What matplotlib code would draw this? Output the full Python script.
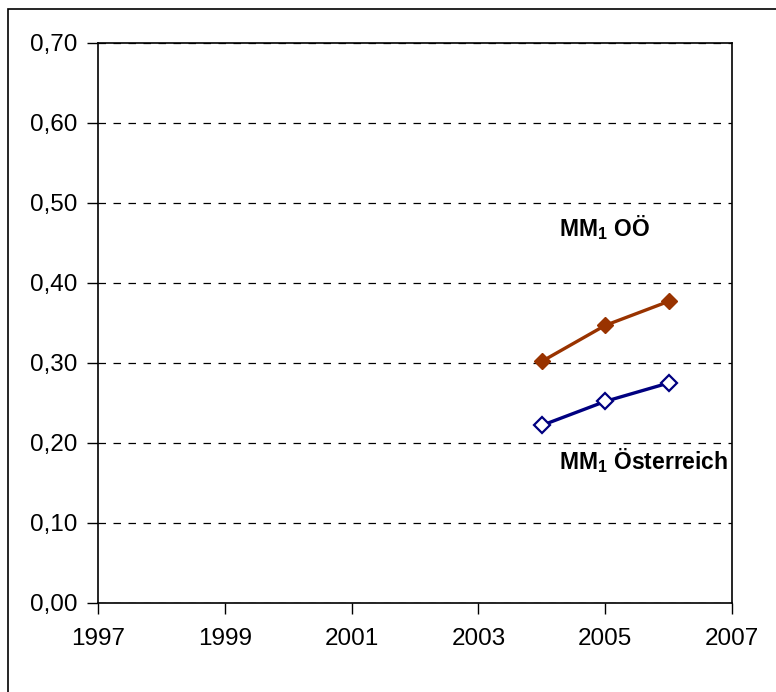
import matplotlib
matplotlib.use("Agg")
from matplotlib import pyplot as plt
from matplotlib.patches import Rectangle
from matplotlib.ticker import FuncFormatter

plt.rcParams['font.family'] = ['Liberation Sans', 'DejaVu Sans']
plt.rcParams['mathtext.fontset'] = 'custom'
plt.rcParams['mathtext.rm'] = 'Liberation Sans'
plt.rcParams['mathtext.bf'] = 'Liberation Sans:bold'

jahre = [2004, 2005, 2006]
mm1_ooe = [0.302, 0.347, 0.377]
mm1_oesterreich = [0.222, 0.252, 0.275]

x_ticks = [1997, 1999, 2001, 2003, 2005, 2007]
y_ticks = [0.0, 0.1, 0.2, 0.3, 0.4, 0.5, 0.6, 0.7]

fig = plt.figure(figsize=(7.76, 6.92), dpi=100)
ax = fig.add_axes([98 / 776, 1 - 603 / 692, 634 / 776, 560 / 692])

# Rahmen um das ganze Diagramm
fig.patches.append(Rectangle((8 / 776, -0.05), 1.1, 1 - 9 / 692 + 0.05,
                             transform=fig.transFigure, fill=False,
                             edgecolor='black', linewidth=1.2))

ax.plot(jahre, mm1_ooe, color='#993300', linewidth=2.4, marker='D',
        markersize=8, markerfacecolor='#993300', markeredgecolor='#993300')
ax.plot(jahre, mm1_oesterreich, color='#000080', linewidth=2.4, marker='D',
        markersize=8, markerfacecolor='white', markeredgecolor='#000080',
        markeredgewidth=1.6)

ax.set_xlim(1997, 2007)
ax.set_ylim(0, 0.7)
ax.set_xticks(x_ticks)
ax.set_yticks(y_ticks)
ax.yaxis.set_major_formatter(FuncFormatter(lambda v, p: f"{v:.2f}".replace('.', ',')))
ax.tick_params(axis='both', direction='out', length=8, width=1, labelsize=17.5)
ax.tick_params(axis='y', pad=7)
ax.tick_params(axis='x', pad=10)

ax.yaxis.grid(True, linestyle=(0, (6, 6)), color='black', linewidth=0.9)
ax.set_axisbelow(True)
for s in ax.spines.values():
    s.set_linewidth(1.2)

ax.text(2004.27, 0.459, r"MM$_{\mathbf{1}}$ OÖ", fontsize=16.5, fontweight='bold',
        va='baseline', ha='left')
ax.text(2004.27, 0.1675, r"MM$_{\mathbf{1}}$ Österreich", fontsize=16.5,
        fontweight='bold', va='baseline', ha='left', clip_on=False)

fig.savefig("out.png", dpi=100)
